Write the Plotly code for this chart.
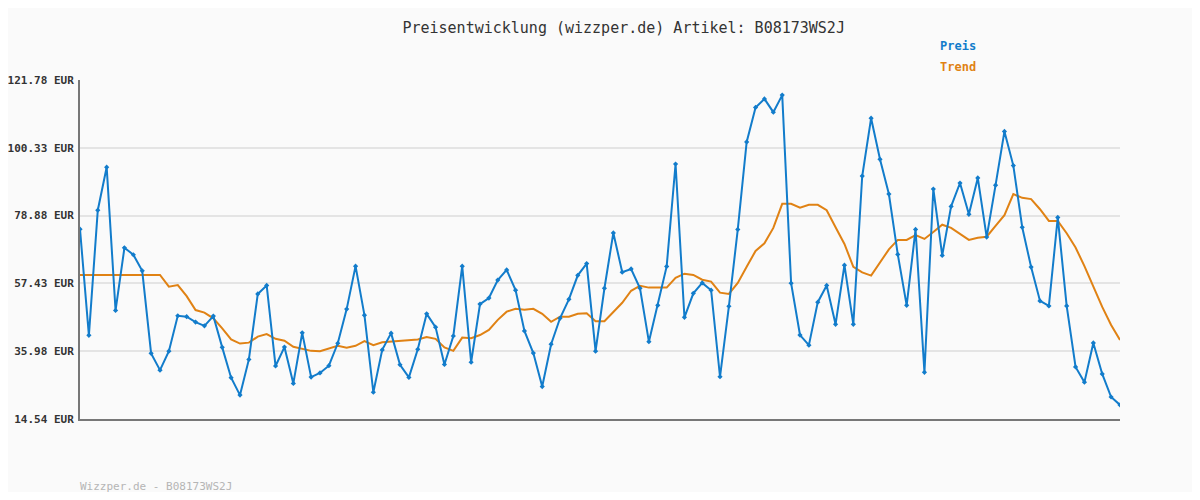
import plotly.graph_objects as go

# Preisverlauf
preis = [74.6, 41.0, 80.6, 94.2, 48.9, 68.7, 66.5, 61.4, 35.3, 30.0,
         36.0, 47.2, 46.9, 45.2, 44.0, 47.1, 37.2, 27.6, 22.1, 33.4,
         54.1, 56.8, 31.3, 37.3, 25.8, 41.8, 27.8, 29.1, 31.4, 38.5,
         49.3, 62.9, 47.4, 23.0, 36.4, 41.7, 31.7, 27.7, 36.6, 47.8,
         43.6, 31.8, 40.8, 62.9, 32.5, 50.9, 52.8, 58.5, 61.7, 55.3,
         42.4, 35.4, 24.8, 38.2, 46.4, 52.4, 60.0, 63.7, 36.0, 55.9,
         73.4, 61.0, 62.0, 55.9, 39.0, 50.5, 62.8, 95.2, 46.7, 54.3,
         57.6, 55.3, 27.9, 50.2, 74.5, 102.2, 113.1, 115.8, 111.6, 117.0,
         57.5, 41.1, 37.9, 51.5, 56.8, 44.5, 63.2, 44.5, 91.4, 109.7,
         96.7, 85.7, 66.6, 50.5, 74.5, 29.3, 87.3, 66.3, 81.8, 89.2,
         79.3, 90.8, 72.1, 88.5, 105.5, 94.7, 75.2, 62.6, 51.9, 50.3,
         78.3, 50.3, 31.0, 26.2, 38.6, 28.8, 21.5, 19.0]

trend = [60.1] * 10 + [
         56.4, 56.9, 53.4, 49.0, 48.2, 46.4, 43.2, 39.7, 38.4, 38.7,
         40.6, 41.4, 39.9, 39.3, 37.4, 36.7, 36.1, 36.0, 36.9, 37.7,
         37.1, 37.7, 39.2, 37.9, 38.8, 39.0, 39.2, 39.3, 39.7, 40.5,
         39.9, 37.2, 36.1, 40.3, 40.1, 41.1, 42.7, 45.9, 48.5, 49.4,
         49.1, 49.4, 47.8, 45.3, 46.9, 46.9, 47.8, 48.0, 45.5, 45.5,
         48.5, 51.3, 55.1, 56.7, 56.1, 56.1, 56.1, 59.2, 60.5, 60.1,
         58.6, 58.0, 54.5, 54.1, 57.6, 62.7, 67.7, 70.1, 75.0, 82.6,
         82.6, 81.4, 82.3, 82.3, 80.6, 75.2, 69.9, 62.7, 60.9, 59.9,
         64.1, 68.2, 71.2, 71.2, 72.7, 71.5, 73.7, 76.0, 75.0, 73.1,
         71.2, 71.9, 72.2, 75.6, 79.0, 85.7, 84.5, 84.1, 80.9, 77.2,
         77.2, 73.3, 68.8, 62.9, 56.6, 50.0, 44.3, 39.5]

tick_vals = [14.54, 35.98, 57.43, 78.88, 100.33, 121.78]
tick_text = [f"<b>{v:.2f} EUR</b>" for v in tick_vals]

blau = '#127ccb'
orange = '#e08214'
mono = 'DejaVu Sans Mono'

x = list(range(len(preis)))

fig = go.Figure()
fig.add_trace(go.Scatter(x=x, y=trend, mode='lines', name='Trend',
                         line=dict(color=orange, width=2)))
fig.add_trace(go.Scatter(x=x, y=preis, mode='lines+markers', name='Preis',
                         line=dict(color=blau, width=2),
                         marker=dict(symbol='diamond', size=4, color=blau)))

fig.update_layout(
    width=1184, height=484,
    paper_bgcolor='#fafafa', plot_bgcolor='#fafafa',
    margin=dict(l=72, r=72, t=72, b=73),
    showlegend=False,
    font=dict(family=mono, size=12, color='#333'),
    title=dict(text='Preisentwicklung (wizzper.de) Artikel: B08173WS2J',
               x=0.52, xanchor='center', y=0.959, yanchor='middle',
               font=dict(family=mono, size=15, color='#333')),
)
fig.update_xaxes(range=[0, len(preis) - 1], showgrid=False, showticklabels=False,
                 zeroline=False, showline=True, linecolor='#777', linewidth=2, ticks='',
                 automargin=False)
fig.update_yaxes(range=[14.54, 121.78], tickvals=tick_vals, ticktext=tick_text,
                 showgrid=True, gridcolor='#e4e4e4', gridwidth=2, zeroline=False,
                 showline=True, linecolor='#777', linewidth=2, automargin=False,
                 ticks='', ticklabelstandoff=2,
                 tickfont=dict(family=mono, size=11, color='#333'))

# Legende als Text
fig.add_annotation(text='<b>Preis</b>', xref='paper', yref='paper', x=0.825, y=1.10,
                   xanchor='left', yanchor='middle', showarrow=False,
                   font=dict(family=mono, size=12, color=blau))
fig.add_annotation(text='<b>Trend</b>', xref='paper', yref='paper', x=0.825, y=1.038,
                   xanchor='left', yanchor='middle', showarrow=False,
                   font=dict(family=mono, size=12, color=orange))
fig.add_annotation(text='Wizzper.de - B08173WS2J', xref='paper', yref='paper', x=-0.002, y=-0.2,
                   xanchor='left', yanchor='middle', showarrow=False,
                   font=dict(family=mono, size=11, color='#b5b5b5'))

fig.write_html("out.html")
